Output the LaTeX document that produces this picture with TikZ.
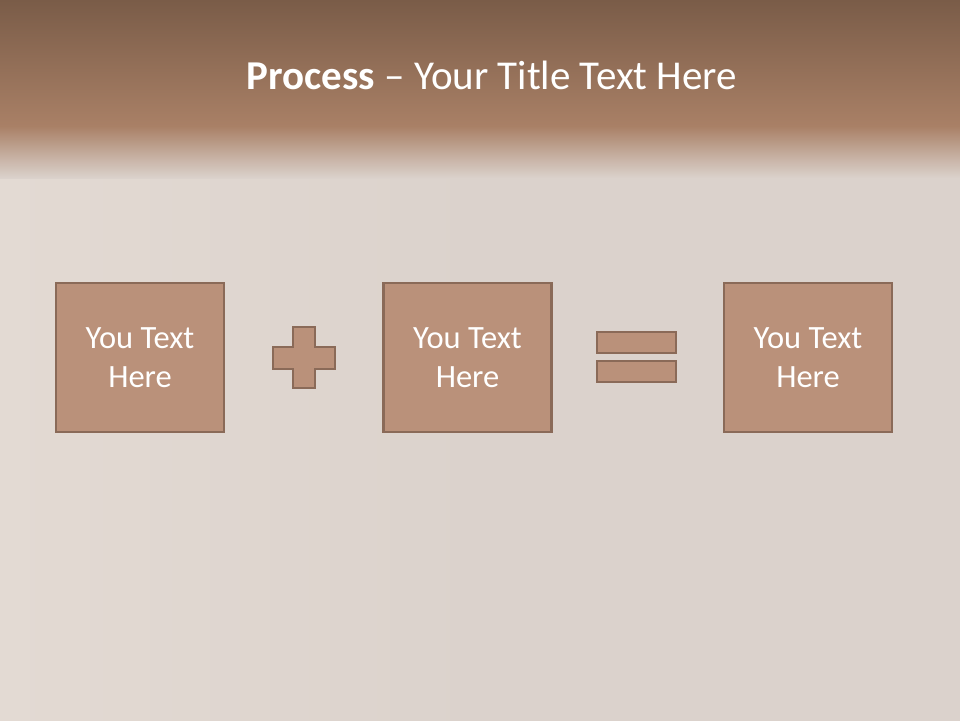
\documentclass[tikz,border=0pt]{standalone}
\usepackage{fontspec}
\setmainfont{Carlito}
\definecolor{bgc}{HTML}{DBD2CC}
\definecolor{bgl}{HTML}{E3DAD3}
\definecolor{hdtop}{HTML}{7A5C48}
\definecolor{hdbot}{HTML}{A98066}
\definecolor{boxfill}{HTML}{BA917A}
\definecolor{boxline}{HTML}{8A6A58}
\tikzset{
  textbox/.style={draw=boxline, fill=boxfill, line width=2.6pt, minimum width=168pt, minimum height=149pt,
    text=white, align=center, font=\fontsize{32.5}{39.5}\selectfont, inner sep=0pt},
  opshape/.style={draw=boxline, fill=boxfill, line width=2.6pt}
}
\begin{document}
\begin{tikzpicture}[x=1pt,y=-1pt]
\useasboundingbox (0,0) rectangle (960,720);
\shade[left color=bgl, right color=bgc, middle color=bgc] (0,0) rectangle (960,720);
% header
\shade[top color=hdtop, bottom color=hdbot] (0,0) rectangle (960,126);
\shade[top color=hdbot, bottom color=bgc] (0,126) rectangle (960,178);
\node[text=white, font=\fontsize{41}{44}\selectfont, anchor=base] (title) at (492,89)
  {\textbf{Process} -- Your Title Text Here};
% boxes
\node[textbox] (b1) at (140,357.5) {You Text\\Here};
\node[textbox] (b2) at (467.5,357.5) {You Text\\Here};
\node[textbox] (b3) at (808,357.5) {You Text\\Here};
% plus
\draw[opshape] (293,327) -- (315,327) -- (315,347) -- (335,347) -- (335,369) -- (315,369)
  -- (315,388) -- (293,388) -- (293,369) -- (273,369) -- (273,347) -- (293,347) -- cycle;
% equals
\draw[opshape] (597,332) rectangle (676,353);
\draw[opshape] (597,361) rectangle (676,382);
\end{tikzpicture}
\end{document}
